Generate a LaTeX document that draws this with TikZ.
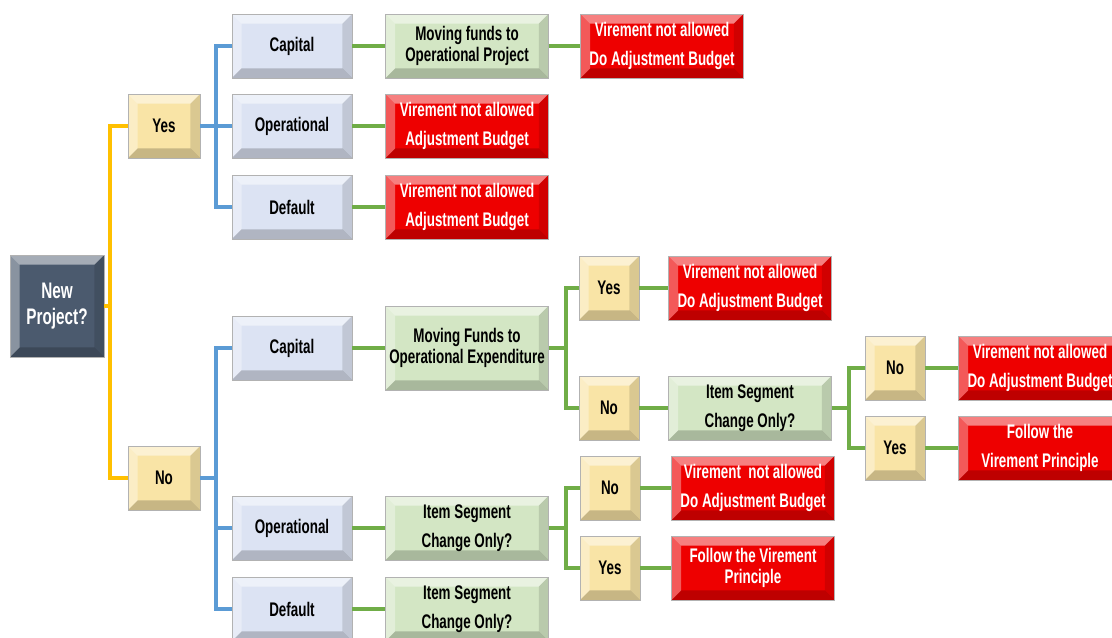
\documentclass[tikz,border=0pt]{standalone}
\usepackage{fontspec}
\setmainfont{Liberation Sans}[FakeStretch=0.68]
\usetikzlibrary{calc}

\definecolor{slate}{HTML}{4B5A6E}
\definecolor{paleyellow}{HTML}{F9E4A6}
\definecolor{paleblue}{HTML}{DCE3F3}
\definecolor{palegreen}{HTML}{D3E6C4}
\definecolor{alarmred}{HTML}{EE0000}
\definecolor{linegold}{HTML}{FFC000}
\definecolor{lineblue}{HTML}{5B9BD5}
\definecolor{linegreen}{HTML}{70AD47}

\tikzset{
  bevel/.style={path picture={
      \coordinate (bnw) at (path picture bounding box.north west);
      \coordinate (bne) at (path picture bounding box.north east);
      \coordinate (bsw) at (path picture bounding box.south west);
      \coordinate (bse) at (path picture bounding box.south east);
      \coordinate (inw) at ([shift={(0.24cm,-0.24cm)}]bnw);
      \coordinate (ine) at ([shift={(-0.24cm,-0.24cm)}]bne);
      \coordinate (isw) at ([shift={(0.24cm,0.24cm)}]bsw);
      \coordinate (ise) at ([shift={(-0.24cm,0.24cm)}]bse);
      \fill[white,opacity=.50] (bnw) -- (bne) -- (ine) -- (inw) -- cycle;
      \fill[white,opacity=.35] (bnw) -- (inw) -- (isw) -- (bsw) -- cycle;
      \fill[black,opacity=.12] (bne) -- (bse) -- (ise) -- (ine) -- cycle;
      \fill[black,opacity=.20] (bsw) -- (isw) -- (ise) -- (bse) -- cycle;
  }},
  box/.style={draw=black!30, line width=0.4pt, bevel, minimum height=1.6cm,
    inner sep=2pt, align=center, font=\bfseries\fontsize{14}{15.5}\selectfont},
  startbox/.style={box, fill=slate, text=white, minimum width=2.35cm, minimum height=2.55cm,
    font=\bfseries\fontsize{16}{18}\selectfont},
  answer/.style={box, fill=paleyellow, minimum width=1.8cm},
  smallanswer/.style={box, fill=paleyellow, minimum width=1.5cm},
  kind/.style={box, fill=paleblue, minimum width=3cm},
  action/.style={box, fill=palegreen, minimum width=4.07cm},
  verdict/.style={box, fill=alarmred, text=white, minimum width=4.07cm},
  goldlink/.style={draw=linegold, line width=2.6pt},
  bluelink/.style={draw=lineblue, line width=2.6pt},
  greenlink/.style={draw=linegreen, line width=2.6pt},
}

\begin{document}
\begin{tikzpicture}[x=0.025cm, y=-0.025cm]
  \useasboundingbox (0,0) rectangle (1112,638);

  % Start
  \node[startbox] (start) at (57,306) {New\\Project?};

  % Yes / No
  \node[answer] (yes1) at (164,126) {Yes};
  \node[answer] (no1) at (164,478) {No};

  % Yes branch
  \node[kind] (capA) at (292,46) {Capital};
  \node[kind] (opA) at (292,126) {Operational};
  \node[kind] (defA) at (292,207) {Default};
  \node[action] (moveA) at (467,46) {Moving funds to\\Operational Project};
  \node[verdict] (redA1) at (662,46) {Virement not allowed\\[5pt]Do Adjustment Budget};
  \node[verdict] (redA2) at (467,126) {Virement not allowed\\[5pt]Adjustment Budget};
  \node[verdict] (redA3) at (467,207) {Virement not allowed\\[5pt]Adjustment Budget};

  % No branch - Capital
  \node[kind] (capB) at (292,348) {Capital};
  \node[action, minimum height=2.1cm] (moveB) at (467,348) {Moving Funds to\\Operational Expenditure};
  \node[smallanswer] (yesB) at (609,288) {Yes};
  \node[verdict] (redB) at (750,288) {Virement not allowed\\[5pt]Do Adjustment Budget};
  \node[smallanswer] (noB) at (609,408) {No};
  \node[action] (itemB) at (750,408) {Item Segment\\[5pt]Change Only?};
  \node[smallanswer] (noC) at (895,368) {No};
  \node[verdict] (redC1) at (1040,368) {Virement not allowed\\[5pt]Do Adjustment Budget};
  \node[smallanswer] (yesC) at (895,448) {Yes};
  \node[verdict] (redC2) at (1040,448) {Follow the\\[5pt]Virement Principle};

  % No branch - Operational
  \node[kind] (opB) at (292,528) {Operational};
  \node[action] (itemOp) at (467,528) {Item Segment\\[5pt]Change Only?};
  \node[smallanswer] (noOp) at (610,488) {No};
  \node[verdict] (redOp1) at (753,488) {Virement ~not allowed\\[5pt]Do Adjustment Budget};
  \node[smallanswer] (yesOp) at (610,568) {Yes};
  \node[verdict] (redOp2) at (753,568) {Follow the Virement\\Principle};

  % No branch - Default
  \node[kind] (defB) at (292,609) {Default};
  \node[action] (itemDef) at (467,609) {Item Segment\\[5pt]Change Only?};

  % Connectors
  \draw[goldlink] (start.east) -- ($(start.east)+(6,0)$) coordinate (gsplit);
  \draw[goldlink] (gsplit) |- (yes1.west);
  \draw[goldlink] (gsplit) |- (no1.west);

  \draw[bluelink] (yes1.east) -- ($(yes1.east)+(16,0)$) coordinate (bsplitA);
  \draw[bluelink] (bsplitA) |- (capA.west);
  \draw[bluelink] (bsplitA) |- (opA.west);
  \draw[bluelink] (bsplitA) |- (defA.west);
  \draw[bluelink] (no1.east) -- ($(no1.east)+(16,0)$) coordinate (bsplitB);
  \draw[bluelink] (bsplitB) |- (capB.west);
  \draw[bluelink] (bsplitB) |- (opB.west);
  \draw[bluelink] (bsplitB) |- (defB.west);

  \draw[greenlink] (capA) -- (moveA);
  \draw[greenlink] (moveA) -- (redA1);
  \draw[greenlink] (opA) -- (redA2);
  \draw[greenlink] (defA) -- (redA3);
  \draw[greenlink] (capB) -- (moveB);
  \draw[greenlink] (opB) -- (itemOp);
  \draw[greenlink] (defB) -- (itemDef);

  \draw[greenlink] (moveB.east) -- ($(moveB.east)+(17,0)$) coordinate (gsplitB);
  \draw[greenlink] (gsplitB) |- (yesB.west);
  \draw[greenlink] (gsplitB) |- (noB.west);
  \draw[greenlink] (yesB) -- (redB);
  \draw[greenlink] (noB) -- (itemB);

  \draw[greenlink] (itemB.east) -- ($(itemB.east)+(17,0)$) coordinate (gsplitC);
  \draw[greenlink] (gsplitC) |- (noC.west);
  \draw[greenlink] (gsplitC) |- (yesC.west);
  \draw[greenlink] (noC) -- (redC1);
  \draw[greenlink] (yesC) -- (redC2);

  \draw[greenlink] (itemOp.east) -- ($(itemOp.east)+(17,0)$) coordinate (gsplitOp);
  \draw[greenlink] (gsplitOp) |- (noOp.west);
  \draw[greenlink] (gsplitOp) |- (yesOp.west);
  \draw[greenlink] (noOp) -- (redOp1);
  \draw[greenlink] (yesOp) -- (redOp2);
\end{tikzpicture}
\end{document}
